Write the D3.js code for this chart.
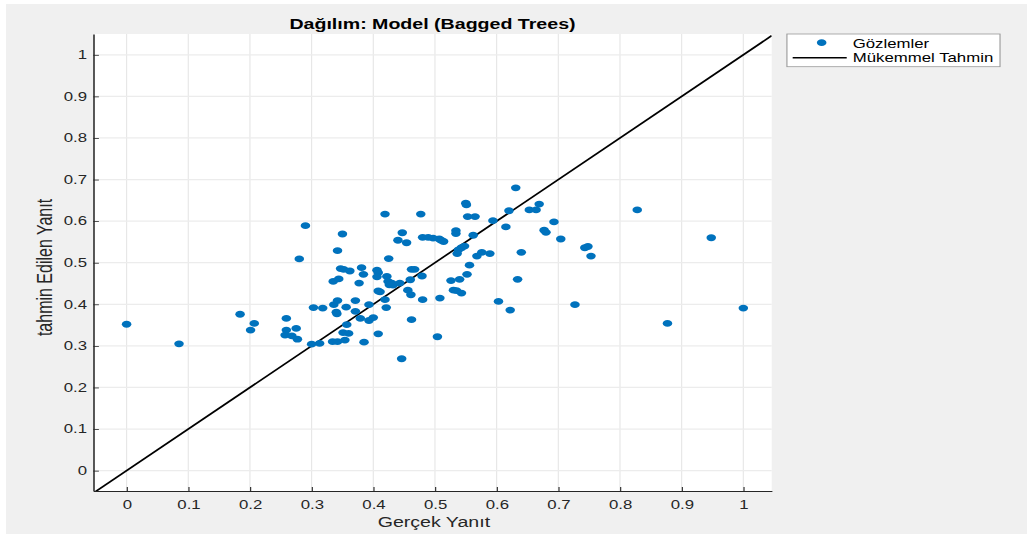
<!DOCTYPE html>
<html>
<head>
<meta charset="utf-8">
<script src="https://cdn.jsdelivr.net/npm/d3@7"></script>
<style>
  body { margin: 0; background: #ffffff; }
  text { font-family: "Liberation Sans", Arial, Helvetica, sans-serif; }
</style>
</head>
<body>
<svg id="chart" width="1027" height="534"></svg>
<script>
const actual = [
  0.000, 0.085, 0.184, 0.207, 0.201, 0.259, 0.259, 0.275, 0.257, 0.268,
  0.277, 0.290, 0.280, 0.303, 0.318, 0.300, 0.313, 0.334, 0.342, 0.354,
  0.385, 0.351, 0.360, 0.357, 0.340, 0.341, 0.336, 0.342, 0.356, 0.371,
  0.371, 0.379, 0.393, 0.393, 0.400, 0.408, 0.421, 0.419, 0.408, 0.411,
  0.446, 0.462, 0.480, 0.504, 0.508, 0.456, 0.461, 0.335, 0.344, 0.377,
  0.347, 0.352, 0.362, 0.381, 0.384, 0.406, 0.408, 0.406, 0.422, 0.424,
  0.430, 0.432, 0.426, 0.443, 0.462, 0.467, 0.460, 0.479, 0.425, 0.342,
  0.350, 0.419, 0.477, 0.447, 0.440, 0.454, 0.480, 0.489, 0.497, 0.507,
  0.514, 0.510, 0.534, 0.534, 0.550, 0.551, 0.553, 0.565, 0.562, 0.631,
  0.620, 0.653, 0.664, 0.669, 0.594, 0.615, 0.693, 0.677, 0.680, 0.704,
  0.828, 0.948, 0.743, 0.748, 0.753, 0.640, 0.589, 0.576, 0.568, 0.543,
  0.538, 0.536, 0.548, 0.556, 0.552, 0.540, 0.526, 0.530, 0.535, 0.543,
  0.603, 0.622, 0.634, 0.727, 0.877, 1.000
];
const predicted = [
  0.352, 0.305, 0.376, 0.354, 0.338, 0.366, 0.338, 0.342, 0.326, 0.324,
  0.316, 0.589, 0.509, 0.392, 0.391, 0.304, 0.306, 0.310, 0.310, 0.314,
  0.309, 0.332, 0.330, 0.351, 0.381, 0.377, 0.399, 0.409, 0.393, 0.409,
  0.383, 0.366, 0.399, 0.361, 0.368, 0.329, 0.392, 0.411, 0.432, 0.430,
  0.269, 0.363, 0.411, 0.322, 0.415, 0.434, 0.423, 0.455, 0.461, 0.451,
  0.486, 0.484, 0.480, 0.488, 0.472, 0.482, 0.476, 0.466, 0.467, 0.455,
  0.451, 0.446, 0.447, 0.451, 0.484, 0.484, 0.459, 0.468, 0.510, 0.529,
  0.569, 0.617, 0.617, 0.572, 0.554, 0.548, 0.561, 0.561, 0.559, 0.557,
  0.551, 0.554, 0.577, 0.570, 0.643, 0.639, 0.611, 0.611, 0.566, 0.680,
  0.625, 0.627, 0.627, 0.641, 0.601, 0.586, 0.598, 0.578, 0.573, 0.557,
  0.627, 0.560, 0.536, 0.539, 0.516, 0.525, 0.522, 0.525, 0.516, 0.536,
  0.531, 0.522, 0.540, 0.494, 0.472, 0.460, 0.457, 0.434, 0.433, 0.427,
  0.407, 0.386, 0.460, 0.399, 0.354, 0.391
];
const xTicks = [0, 0.1, 0.2, 0.3, 0.4, 0.5, 0.6, 0.7, 0.8, 0.9, 1];
const yTicks = [0, 0.1, 0.2, 0.3, 0.4, 0.5, 0.6, 0.7, 0.8, 0.9, 1];
const xLimits = [-0.054, 1.046];
const yLimits = [-0.049, 1.05];
const legendLabels = ["Gözlemler", "Mükemmel Tahmin"];

const points = actual.map((a, i) => ({ actual: a, predicted: predicted[i] }));

// the reference figure is stretched sideways, so draw in a narrower space and scale it out
const SX = 1.4;
const plotLeft = 66.64, plotRight = 551.21, plotTop = 34, plotBottom = 491;

const svg = d3.select("#chart");
svg.append("rect")
  .attr("x", 6).attr("y", 4)
  .attr("width", 1021).attr("height", 530)
  .attr("fill", "#f0f0f0");

const g = svg.append("g").attr("transform", `scale(${SX},1)`);

const x = d3.scaleLinear().domain(xLimits).range([plotLeft, plotRight]);
const y = d3.scaleLinear().domain(yLimits).range([plotBottom, plotTop]);

g.append("rect")
  .attr("x", plotLeft).attr("y", plotTop)
  .attr("width", plotRight - plotLeft).attr("height", plotBottom - plotTop)
  .attr("fill", "#ffffff");

g.append("clipPath").attr("id", "plot-clip")
  .append("rect")
  .attr("x", plotLeft).attr("y", plotTop)
  .attr("width", plotRight - plotLeft).attr("height", plotBottom - plotTop);

// grid
g.append("g")
  .selectAll("line")
  .data(xTicks)
  .join("line")
  .attr("x1", (d) => x(d)).attr("x2", (d) => x(d))
  .attr("y1", plotTop).attr("y2", plotBottom)
  .attr("stroke", "#e6e6e6").attr("stroke-width", 0.8);

g.append("g")
  .selectAll("line")
  .data(yTicks)
  .join("line")
  .attr("x1", plotLeft).attr("x2", plotRight)
  .attr("y1", (d) => y(d)).attr("y2", (d) => y(d))
  .attr("stroke", "#ececec").attr("stroke-width", 1.2);

// axes
const xAxis = g.append("g")
  .attr("transform", `translate(0,${plotBottom})`)
  .call(d3.axisBottom(x).tickValues(xTicks).tickFormat(d3.format("")).tickSize(-4).tickSizeOuter(0).tickPadding(9.5));

const yAxis = g.append("g")
  .attr("transform", `translate(${plotLeft},0)`)
  .call(d3.axisLeft(y).tickValues(yTicks).tickFormat(d3.format("")).tickSize(-4).tickSizeOuter(0).tickPadding(4.5));

[xAxis, yAxis].forEach((ax) => {
  ax.select(".domain").attr("stroke", "#262626").attr("stroke-width", 1.1);
  ax.selectAll(".tick line").attr("stroke", "#262626").attr("stroke-width", 0.8);
  ax.selectAll(".tick text")
    .attr("fill", "#262626")
    .style("font-size", "12px")
    .style("font-family", '"Liberation Sans", Arial, sans-serif');
});

// perfect prediction line y = x
const plot = g.append("g").attr("clip-path", "url(#plot-clip)");
plot.append("line")
  .attr("x1", x(xLimits[0])).attr("y1", y(xLimits[0]))
  .attr("x2", x(xLimits[1])).attr("y2", y(xLimits[1]))
  .attr("stroke", "#000000").attr("stroke-width", 1.5);

plot.append("g")
  .selectAll("circle")
  .data(points)
  .join("circle")
  .attr("cx", (d) => x(d.actual))
  .attr("cy", (d) => y(d.predicted))
  .attr("r", 3.4)
  .attr("fill", "#0072BD");

// titles
g.append("text")
  .attr("x", (plotLeft + plotRight) / 2).attr("y", 29)
  .attr("text-anchor", "middle")
  .style("font-size", "14px").style("font-weight", "bold")
  .attr("fill", "#000000")
  .text("Dağılım: Model (Bagged Trees)");

g.append("text")
  .attr("x", (plotLeft + plotRight) / 2 + 1).attr("y", 527)
  .attr("text-anchor", "middle")
  .style("font-size", "14px")
  .attr("fill", "#262626")
  .text("Gerçek Yanıt");

g.append("text")
  .attr("transform", `translate(36.9,267.5) rotate(-90)`)
  .attr("text-anchor", "middle")
  .style("font-size", "16px")
  .attr("fill", "#262626")
  .text("tahmin Edilen Yanıt");

// legend
const legend = g.append("g");
legend.append("rect")
  .attr("x", 562.1).attr("y", 34)
  .attr("width", 152.2).attr("height", 32.7)
  .attr("fill", "#ffffff")
  .attr("stroke", "#9a9a9a").attr("stroke-width", 0.8);

legend.append("circle")
  .attr("cx", 586.9).attr("cy", 42.7).attr("r", 3.4)
  .attr("fill", "#0072BD");

legend.append("line")
  .attr("x1", 566.2).attr("x2", 604.8)
  .attr("y1", 57.7).attr("y2", 57.7)
  .attr("stroke", "#000000").attr("stroke-width", 1.5);

legend.selectAll("text.leg")
  .data(legendLabels)
  .join("text")
  .attr("class", "leg")
  .attr("x", 609.1)
  .attr("y", (d, i) => 48 + i * 14)
  .style("font-size", "12px")
  .attr("fill", "#000000")
  .text((d) => d);
</script>
</body>
</html>
